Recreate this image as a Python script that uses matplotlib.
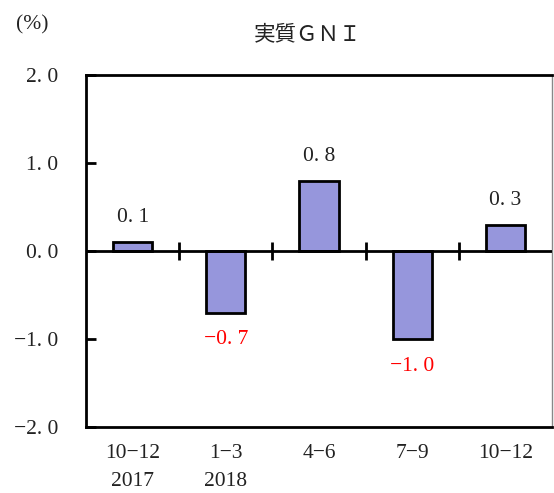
import matplotlib as mpl
mpl.use('Agg')
import matplotlib.pyplot as plt
import numpy as np

plt.rcParams['font.family'] = ['Liberation Serif', 'Noto Sans CJK JP', 'DejaVu Sans']

quarters = ["10−12", "1−3", "4−6", "7−9", "10−12"]
years = ["2017", "2018", "", "", ""]
gni = [0.1, -0.7, 0.8, -1.0, 0.3]
yticks = [-2.0, -1.0, 0.0, 1.0, 2.0]

def fmt(v):
    s = "%.1f" % abs(v)
    s = s.replace(".", ". ")
    return ("−" + s) if v < 0 else s

fig = plt.figure(figsize=(5.54, 4.93), dpi=100)
ax = fig.add_axes([86/554, 66/493, 466/554, 352/493])

x = np.arange(len(gni))
ax.bar(x, gni, width=0.42, color='#9696DC', edgecolor='black', linewidth=2, zorder=3)
ax.axhline(0, color='black', lw=2, zorder=4)
ax.vlines(np.arange(len(gni) - 1) + 0.5, -0.1, 0.1, color='black', lw=2, zorder=4)

for xi, v in zip(x, gni):
    if v >= 0:
        ax.text(xi, v + 0.17, fmt(v), ha='center', va='bottom', fontsize=15.5, color='#222222')
    else:
        ax.text(xi, v - 0.2, fmt(v), ha='center', va='top', fontsize=15.5, color='red')

ax.set_xlim(-0.5, len(gni) - 0.5)
ax.set_ylim(-2, 2)
ax.set_yticks(yticks)
ax.set_yticklabels([fmt(t) for t in yticks], fontsize=15.5, color='#222222')
ax.tick_params(axis='y', direction='in', length=7, width=2, pad=20)
ax.set_xticks(x)
ax.set_xticklabels([q + ("\n" + y if y else "\n") for q, y in zip(quarters, years)],
                   fontsize=15.5, color='#222222', linespacing=1.65)
ax.tick_params(axis='x', length=0, pad=12)

for side in ['left', 'top', 'bottom']:
    ax.spines[side].set_linewidth(2)
ax.spines['right'].set_linewidth(1)
ax.spines['right'].set_color('#888888')

fig.text(32/554, 1 - 25/493, "(%)", ha='center', va='center', fontsize=15.5, color='#222222')
fig.text(308/554, 1 - 34/493, "実質ＧＮＩ", ha='center', va='center', fontsize=15.5,
         color='#222222', family=['Noto Sans CJK JP', 'DejaVu Sans'])

fig.savefig('out.png', dpi=100)
